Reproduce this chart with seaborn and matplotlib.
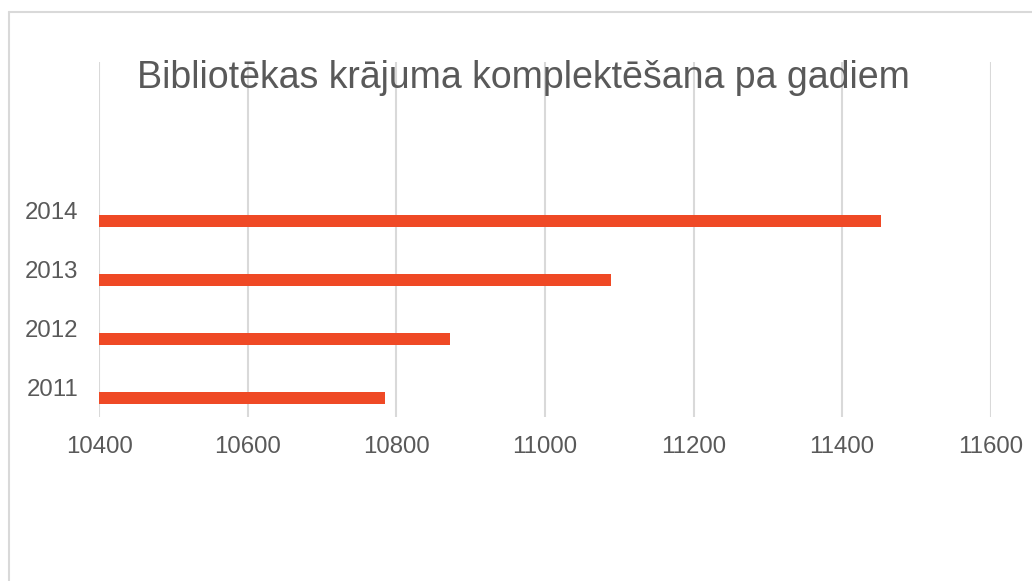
import matplotlib
matplotlib.use("Agg")
import matplotlib.pyplot as plt
import seaborn as sns
import pandas as pd
from matplotlib.lines import Line2D

# Data
years = ["2014", "2013", "2012", "2011"]
values = [11452, 11089, 10872, 10784]
x_ticks = [10400, 10600, 10800, 11000, 11200, 11400, 11600]
title = "Bibliotēkas krājuma komplektēšana pa gadiem"

sns.set_theme(style="white")
plt.rcParams["font.family"] = ["Liberation Sans", "DejaVu Sans"]

text_color = "#595959"
grid_color = "#D9D9D9"
bar_color = "#EF4925"

df = pd.DataFrame({
    "year": years * 2,
    "value": [0] * len(years) + values,
    "series": ["empty"] * len(years) + ["value"] * len(years),
})

W, H = 1032, 581
fig = plt.figure(figsize=(W / 100, H / 100), dpi=100)
ax = fig.add_axes([99.3 / W, 1 - 417 / H, (990.7 - 99.3) / W, (417 - 62) / H])

sns.barplot(data=df, x="value", y="year", hue="series", hue_order=["empty", "value"],
            order=years, orient="h", palette=[bar_color, bar_color], width=0.72,
            gap=0.42, dodge=True, legend=False, ax=ax, linewidth=0, saturation=1)

ax.set_xlim(10400, 11600)
ax.set_ylim(3.5, 3.5 - 355 / 59)
ax.set_xticks(x_ticks)
ax.set_xticklabels([str(t) for t in x_ticks])
ax.xaxis.grid(True, color=grid_color, linewidth=1.5)
ax.yaxis.grid(False)
ax.set_axisbelow(True)
for s in ax.spines.values():
    s.set_visible(False)
ax.set_xlabel("")
ax.set_ylabel("")
ax.tick_params(axis="x", length=0, pad=14, labelsize=17.3, labelcolor=text_color)
ax.tick_params(axis="y", length=0, pad=15, labelsize=17.3, labelcolor=text_color)

fig.text(523 / W, 1 - 78 / H, title, ha="center", va="center", fontsize=27, color=text_color)

# chart frame (left and top edges visible)
fig.add_artist(Line2D([8.5 / W, 8.5 / W], [0, 1 - 12 / H], transform=fig.transFigure,
                      color=grid_color, linewidth=1.5))
fig.add_artist(Line2D([8.5 / W, 1], [1 - 12 / H, 1 - 12 / H], transform=fig.transFigure,
                      color=grid_color, linewidth=1.5))

fig.savefig("out.png", dpi=100)
